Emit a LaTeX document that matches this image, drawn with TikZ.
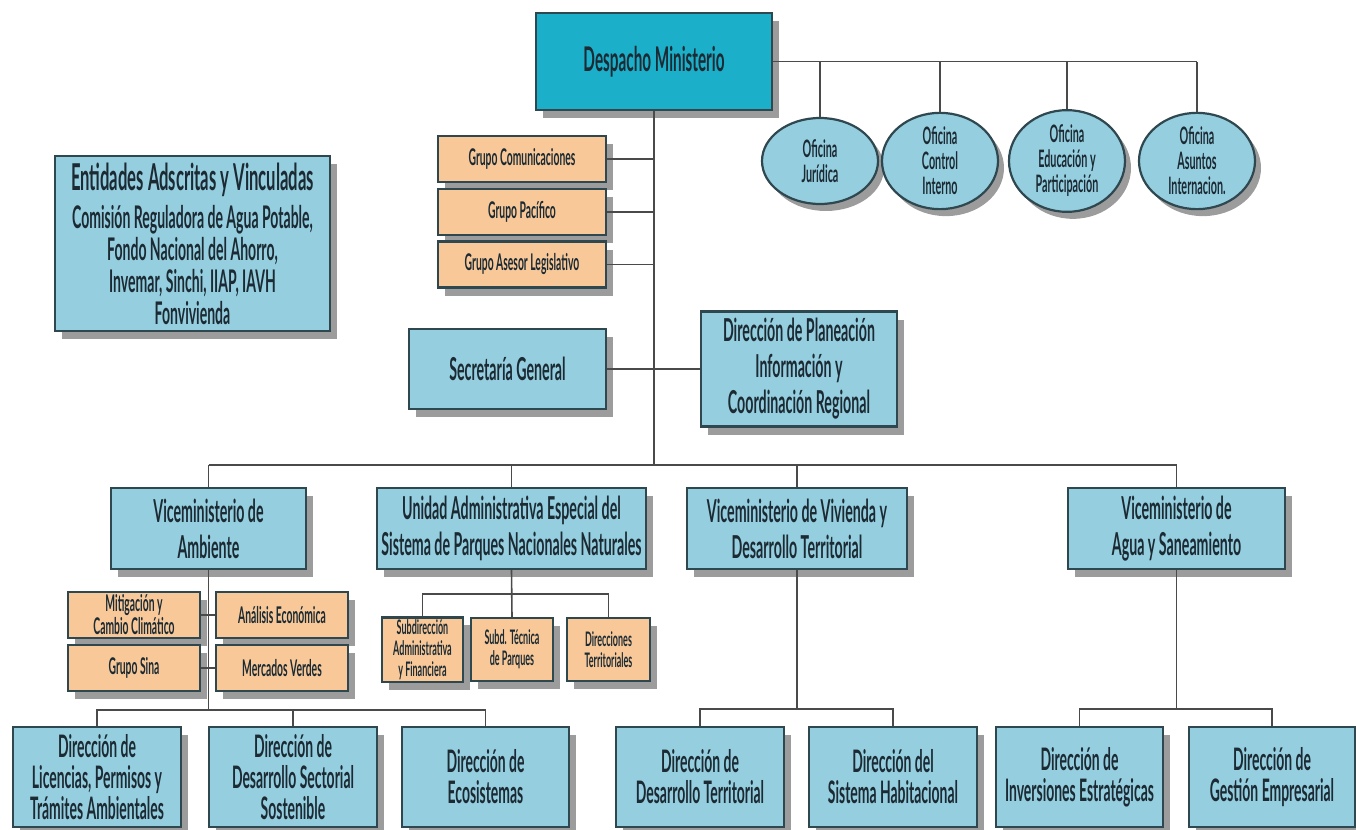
\documentclass[tikz,border=0pt]{standalone}
\usepackage{fontspec}
\setmainfont[FakeStretch=0.45]{Lato}
\usetikzlibrary{shadows,shapes.geometric}

\definecolor{paleblue}{HTML}{95CEDF}
\definecolor{deepteal}{HTML}{1CAFCA}
\definecolor{peach}{HTML}{F8C898}
\definecolor{edge}{HTML}{2F474F}
\definecolor{shade}{HTML}{9C9C9C}
\definecolor{wire}{HTML}{4A4A4A}
\definecolor{ink}{HTML}{1B2A33}

% let lines sit closer than their glyph boxes would allow
\newcommand\tightlines{\lineskiplimit-6pt\relax}

\tikzset{
  dims/.style 2 args={minimum width=#1*0.5pt, minimum height=#2*0.5pt},
  unit/.style={rectangle, draw=edge, line width=1.1pt, align=center, inner sep=1pt,
    text=ink, drop shadow={shadow xshift=3.5pt, shadow yshift=-4pt, fill=shade, opacity=1}},
  bluebox/.style={unit, fill=paleblue},
  topbox/.style={unit, fill=deepteal},
  grpbox/.style={unit, fill=peach},
  office/.style={ellipse, draw=edge, line width=1.1pt, fill=paleblue, align=center,
    inner sep=0pt, text=ink, dims={116}{86},
    drop shadow={shadow xshift=3pt, shadow yshift=-3.5pt, fill=shade, opacity=1},
    font=\bfseries\fontsize{12}{12.5}\selectfont},
  conn/.style={draw=wire, line width=0.8pt},
  fTop/.style={font=\bfseries\fontsize{17}{20}\selectfont},
  fMid/.style={font=\bfseries\fontsize{15.8}{18}\selectfont},
  fLow/.style={font=\bfseries\fontsize{15.5}{15.5}\selectfont\tightlines},
  fGrp/.style={font=\bfseries\fontsize{11.5}{11.5}\selectfont},
  fSub/.style={font=\bfseries\fontsize{10}{10.5}\selectfont},
}

\begin{document}
\begin{tikzpicture}[x=0.5pt,y=-0.5pt]
\useasboundingbox (0,0) rectangle (1356,830);

% ---- connector anchors ----
\coordinate (busL) at (208.5,465);
\coordinate (busR) at (1176.5,465);
\coordinate (ambB) at (208.5,710);
\coordinate (uaeB) at (512,594);
\coordinate (vivB) at (797,709);
\coordinate (aguaB) at (1176.5,709);

% ---- top level ----
\node[topbox, fTop, dims={236}{97}] (desp) at (654,61.5) {Despacho Ministerio};

\node[office] (oj) at (820,161) {Oficina\\Jurídica};
\node[office] (oc) at (940,161) {Oficina\\Control\\Interno};
\node[office] (oe) at (1067,161) {Oficina\\Educación y\\Participación};
\node[office] (oa) at (1197,161) {Oficina\\Asuntos\\Internacion.};

\node[grpbox, fGrp, dims={168}{46}] (gcom) at (522,159) {Grupo Comunicaciones};
\node[grpbox, fGrp, dims={168}{46}] (gpac) at (522,212) {Grupo Pacífico};
\node[grpbox, fGrp, dims={168}{46}] (gleg) at (522,264.5) {Grupo Asesor Legislativo};

\node[bluebox, dims={275}{175}, font=\bfseries\fontsize{15.6}{16}\selectfont\tightlines] (ent) at (192.5,243.5)
  {{\fontsize{18.5}{20}\selectfont Entidades Adscritas y Vinculadas}\\[3pt]
   Comisión Reguladora de Agua Potable,\\Fondo Nacional del Ahorro,\\
   Invemar, Sinchi, IIAP, IAVH\\Fonvivienda};

\node[bluebox, fMid, dims={197}{80}] (sec) at (507.5,369) {Secretaría General};
\node[bluebox, fMid, dims={196}{115}] (plan) at (799,369)
  {Dirección de Planeación\\Información y\\Coordinación Regional};

% ---- viceministerios ----
\node[bluebox, fMid, dims={195}{81}] (amb) at (208.5,528.5) {Viceministerio de\\Ambiente};
\node[bluebox, fMid, dims={269}{81}] (uae) at (511.5,528.5)
  {Unidad Administrativa Especial del\\Sistema de Parques Nacionales Naturales};
\node[bluebox, fMid, dims={220}{81}] (viv) at (797,528.5)
  {Viceministerio de Vivienda y\\Desarrollo Territorial};
\node[bluebox, fMid, dims={217}{81}] (agua) at (1176.5,528.5)
  {Viceministerio de\\Agua y Saneamiento};

% ---- groups under Ambiente ----
\node[grpbox, fGrp, dims={132}{46}] (mit) at (134,615) {Mitigación y\\Cambio Climático};
\node[grpbox, fGrp, dims={132}{46}] (ana) at (282,615) {Análisis Económica};
\node[grpbox, fGrp, dims={132}{46}] (sina) at (134,668) {Grupo Sina};
\node[grpbox, fGrp, dims={132}{46}] (merc) at (282,668) {Mercados Verdes};

% ---- units under Parques ----
\node[grpbox, fSub, dims={81}{63}] (sadm) at (422.5,649.5) {Subdirección\\Administrativa\\y Financiera};
\node[grpbox, fSub, dims={82}{63}] (stec) at (512,649.5) {Subd. Técnica\\de Parques};
\node[grpbox, fSub, dims={83}{63}] (dterr) at (608.5,649.5) {Direcciones\\Territoriales};

% ---- direcciones ----
\node[bluebox, fLow, dims={168}{100}] (lic) at (97,777) {Dirección de\\Licencias, Permisos y\\Trámites Ambientales};
\node[bluebox, fLow, dims={168}{100}] (sect) at (293,777) {Dirección de\\Desarrollo Sectorial\\Sostenible};
\node[bluebox, fLow, dims={167}{100}] (eco) at (485.5,777) {Dirección de\\Ecosistemas};
\node[bluebox, fLow, dims={168}{100}] (dter) at (700,777) {Dirección de\\Desarrollo Territorial};
\node[bluebox, fLow, dims={168}{100}] (shab) at (893,777) {Dirección del\\Sistema Habitacional};
\node[bluebox, fLow, dims={167}{100}] (inv) at (1079.5,777) {Dirección de\\Inversiones Estratégicas};
\node[bluebox, fLow, dims={166}{100}] (gest) at (1272,777) {Dirección de\\Gestión Empresarial};

% ---- connectors ----
\draw[conn] (desp.east) -- (oa.north |- desp.east);
\foreach \o in {oj,oc,oe,oa} \draw[conn] (\o.north) -- (\o.north |- desp.east);

\draw[conn] (desp.south) -- (desp.south |- busL);
\foreach \g in {gcom,gpac,gleg} \draw[conn] (\g.east) -- (\g.east -| desp.south);
\draw[conn] (sec.east) -- (plan.west);

\draw[conn] (busL) -- (busR);
\foreach \v in {amb,uae,viv,agua} \draw[conn] (\v.north) -- (\v.north |- busL);

\draw[conn] (amb.south) -- (ambB);
\draw[conn] (mit.east) -- (ana.west);
\draw[conn] (sina.east) -- (merc.west);
\draw[conn] (lic.north) -- (lic.north |- ambB) -- (eco.north |- ambB) -- (eco.north);
\draw[conn] (sect.north) -- (sect.north |- ambB);

\draw[conn] (uae.south) -- (stec.north);
\draw[conn] (sadm.north) -- (sadm.north |- uaeB) -- (dterr.north |- uaeB) -- (dterr.north);

\draw[conn] (viv.south) -- (vivB);
\draw[conn] (dter.north) -- (dter.north |- vivB) -- (shab.north |- vivB) -- (shab.north);

\draw[conn] (agua.south) -- (aguaB);
\draw[conn] (inv.north) -- (inv.north |- aguaB) -- (gest.north |- aguaB) -- (gest.north);
\end{tikzpicture}
\end{document}
